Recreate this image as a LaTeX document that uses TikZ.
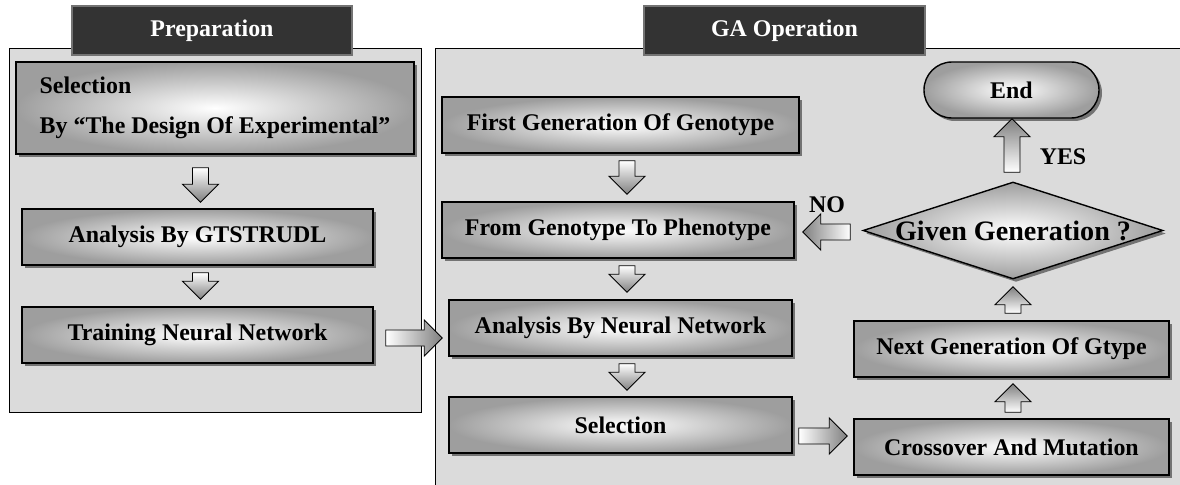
\documentclass[tikz,border=0pt]{standalone}
\usepackage{fontspec}
\setmainfont{Liberation Serif}
\usetikzlibrary{calc,shadows,shapes.geometric,positioning}

\def\px{0.025cm}      % 1 px of the layout
\def\shaftw{0.2cm}    % half width of a block arrow shaft
\def\headw{0.45cm}    % half width of its head
\def\headlen{0.45cm}  % length of its head

% block arrow from tail #2 to tip #3
\newcommand\fatarrow[3][]{%
  \coordinate (fa-t) at (#2);
  \coordinate (fa-h) at (#3);
  \coordinate (fa-n) at ($(fa-h)!\headlen!(fa-t)$);
  \path[blockarrow,#1]
    ($(fa-t)!\shaftw!90:(fa-h)$) -- ($(fa-n)!\shaftw!90:(fa-h)$)
    -- ($(fa-n)!\headw!90:(fa-h)$) -- (fa-h)
    -- ($(fa-n)!\headw!-90:(fa-h)$) -- ($(fa-n)!\shaftw!-90:(fa-h)$)
    -- ($(fa-t)!\shaftw!-90:(fa-h)$) -- cycle;
}

\begin{document}
\begin{tikzpicture}[
  x=\px, y=-\px,
  every node/.style={font=\fontsize{17}{20}\selectfont\bfseries},
  panel/.style={draw=black, fill=black!14, line width=0.6pt},
  titlebox/.style={draw=black!55, fill=black!80, text=white,
    line width=0.8pt, minimum height=49*\px},
  stepbox/.style={draw=black, line width=1pt, inner color=white,
    outer color=black!38, minimum height=56*\px,
    drop shadow={shadow xshift=3*\px, shadow yshift=-3*\px,
      fill=black!55, opacity=1}},
  blockarrow/.style={draw=black, line width=0.6pt},
  fatdown/.style={blockarrow, top color=white, bottom color=black!50},
  fatup/.style={blockarrow, bottom color=white, top color=black!50},
  fatright/.style={blockarrow, left color=white, right color=black!50},
  fatleft/.style={blockarrow, right color=white, left color=black!50},
]
\useasboundingbox (0,0) rectangle (1180,485);

%% panels
\draw[panel] (9,48) rectangle (421,412);
\draw[panel] (435,48) rectangle (1200,510);

%% titles
\node[titlebox, minimum width=280*\px] (prep) at (212,30.5) {Preparation};
\node[titlebox, minimum width=281*\px] (gaop) at (784.5,30.5) {GA Operation};

%% preparation steps
\node[stepbox, minimum width=398*\px, minimum height=92*\px, align=left,
      font=\fontsize{17}{28}\selectfont\bfseries]
  (sel1) at (215,108) {Selection\\By “The Design Of Experimental”};
\node[stepbox, minimum width=351*\px] (gts) at (197.5,237) {Analysis By GTSTRUDL};
\node[stepbox, minimum width=351*\px] (train) at (197.5,335) {Training Neural Network};

%% GA steps
\node[stepbox, minimum width=357*\px] (first) at (620.5,125) {First Generation Of Genotype};
\node[stepbox, minimum width=352*\px] (pheno) at (618,230) {From Genotype To Phenotype};
\node[stepbox, minimum width=343*\px] (ann) at (620.5,328) {Analysis By Neural Network};
\node[stepbox, minimum width=343*\px] (sel2) at (620.5,425) {Selection};
\node[stepbox, minimum width=315*\px] (cross) at (1011.5,447) {Crossover And Mutation};
\node[stepbox, minimum width=315*\px] (next) at (1011.5,349) {Next Generation Of Gtype};
\node[stepbox, diamond, minimum width=300*\px, minimum height=97*\px, inner sep=0pt,
      label={[font=\fontsize{20}{24}\selectfont\bfseries]center:Given Generation ?}]
  (given) at (1013,230.5) {};
\node[stepbox, rounded corners=0.7cm, minimum width=175*\px] (end) at (1011.5,90) {End};

%% arrows
\fatarrow[fatdown]{$(sel1.south -| gts.north)+(3,13)$}{$(gts.north)+(3,-6)$}
\fatarrow[fatdown]{$(gts.south)+(3,7)$}{$(train.north)+(3,-7)$}
\fatarrow[fatright]{$(train.east)+(12,3)$}{$(ann.west |- train.east)+(-6,3)$}
\fatarrow[fatdown]{$(first.south)+(6.5,7)$}{$(pheno.north)+(9,-7)$}
\fatarrow[fatdown]{$(pheno.south)+(9,7)$}{$(ann.north)+(6.5,-7)$}
\fatarrow[fatdown]{$(ann.south)+(6.5,7)$}{$(sel2.north)+(6.5,-6)$}
\fatarrow[fatright]{$(sel2.east)+(6,11)$}{$(cross.west)+(-6,-11)$}
\fatarrow[fatup]{$(cross.north)+(1.5,-6)$}{$(next.south)+(1.5,6)$}
\fatarrow[fatup]{$(next.north)+(1.5,-7)$}{$(given.south)+(0,7)$}
\fatarrow[fatup]{$(given.north)+(-1,-9)$}{$(end.south)+(0.5,0)$}
\fatarrow[fatleft]{$(given.west)+(-12,1.5)$}{$(pheno.east)+(8,2)$}

%% branch labels
\node (no) at (827,205) {NO};
\node (yes) at (1063,157) {YES};

\end{tikzpicture}
\end{document}
